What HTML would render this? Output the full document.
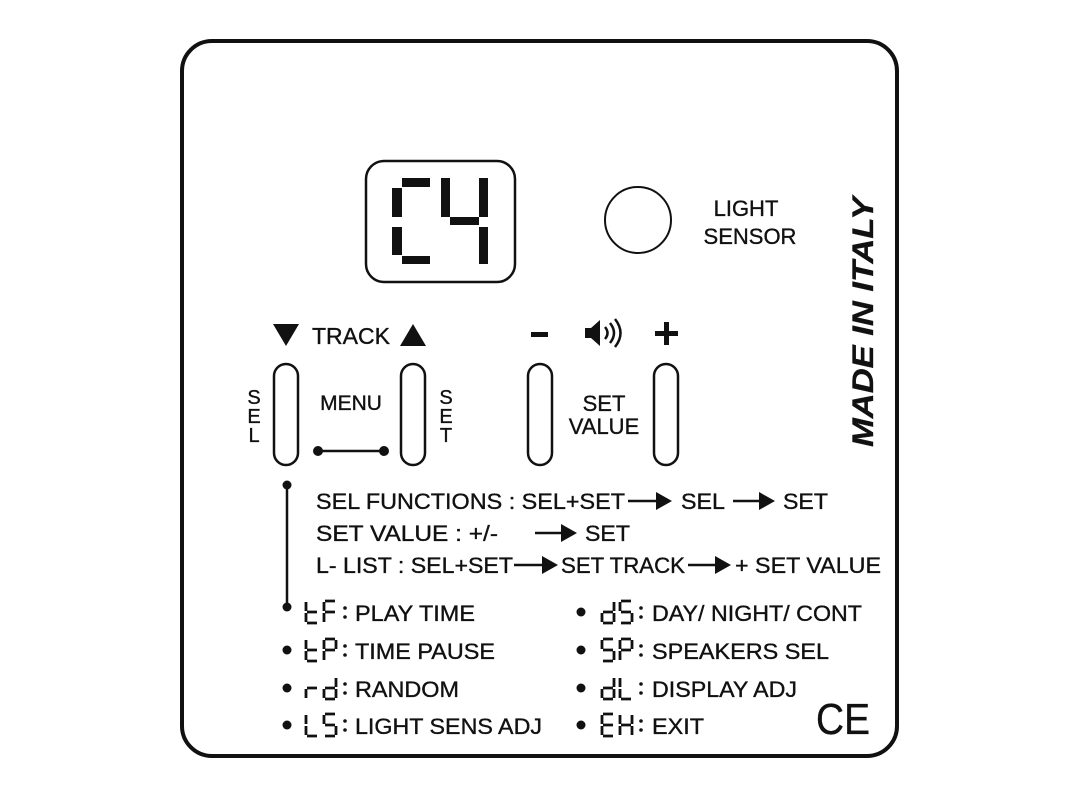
<!DOCTYPE html>
<html><head><meta charset="utf-8"><style>
html,body{margin:0;padding:0;background:#fff;}
svg{display:block;}
text{font-family:"Liberation Sans",Arial,sans-serif;fill:#111;stroke:#111;stroke-width:0.35;}
</style></head><body>
<svg width="1080" height="799" viewBox="0 0 1080 799" xmlns="http://www.w3.org/2000/svg">
<rect x="0" y="0" width="1080" height="799" fill="#fff"/>
<rect x="182" y="41" width="715" height="715" rx="30" fill="none" stroke="#111" stroke-width="4"/>
<rect x="366" y="161" width="149" height="121" rx="18" fill="none" stroke="#111" stroke-width="2.5"/>
<g fill="#111">
<rect x="402" y="178" width="28" height="9"/>
<rect x="392" y="188" width="10" height="29"/>
<rect x="392" y="227" width="10" height="28"/>
<rect x="402" y="256" width="28" height="8"/>
<rect x="441" y="178" width="9" height="39"/>
<rect x="450" y="217" width="29" height="8"/>
<rect x="479" y="178" width="9" height="39"/>
<rect x="479" y="227" width="9" height="37"/>
</g>
<circle cx="638" cy="220" r="33" fill="none" stroke="#111" stroke-width="2"/>
<text x="746" y="216" font-size="22" text-anchor="middle">LIGHT</text>
<text x="750" y="244" font-size="22" text-anchor="middle">SENSOR</text>
<text transform="translate(873,322) rotate(-90)" font-size="30" font-weight="bold" font-style="italic" text-anchor="middle" textLength="250" lengthAdjust="spacingAndGlyphs">MADE IN ITALY</text>
<polygon points="273,324 299,324 286,346" fill="#111"/>
<text x="312" y="344" font-size="23" textLength="78" lengthAdjust="spacingAndGlyphs">TRACK</text>
<polygon points="400,346 426,346 413,324" fill="#111"/>
<rect x="531" y="332" width="17" height="5" fill="#111"/>
<polygon points="585,328 591,328 600,320 600,346 591,338 585,338" fill="#111"/>
<path d="M605,327 q5,6 0,12 M610,323 q8,10 0,20 M615,319 q11,14 0,28" fill="none" stroke="#111" stroke-width="2.5"/>
<rect x="655" y="331" width="23" height="5" fill="#111"/>
<rect x="664" y="322" width="5" height="23" fill="#111"/>
<g fill="none" stroke="#111" stroke-width="2.5">
<rect x="274" y="364" width="24" height="101" rx="12"/>
<rect x="401" y="364" width="24" height="101" rx="12"/>
<rect x="528" y="364" width="24" height="101" rx="12"/>
<rect x="654" y="364" width="24" height="101" rx="12"/>
</g>
<g font-size="20" text-anchor="middle">
<text x="254" y="404">S</text><text x="254" y="423">E</text><text x="254" y="442">L</text>
<text x="446" y="404">S</text><text x="446" y="423">E</text><text x="446" y="442">T</text>
</g>
<text x="351" y="410" font-size="21" text-anchor="middle">MENU</text>
<line x1="318" y1="451" x2="384" y2="451" stroke="#111" stroke-width="2.5"/>
<circle cx="318" cy="451" r="5" fill="#111"/><circle cx="384" cy="451" r="5" fill="#111"/>
<text x="604" y="411" font-size="22" text-anchor="middle">SET</text>
<text x="604" y="434" font-size="22" text-anchor="middle">VALUE</text>
<line x1="287" y1="485" x2="287" y2="607" stroke="#111" stroke-width="2.5"/>
<circle cx="287" cy="485" r="4.5" fill="#111"/><circle cx="287" cy="607" r="4.5" fill="#111"/>
<g font-size="22">
<text x="316" y="509" textLength="309" lengthAdjust="spacingAndGlyphs">SEL FUNCTIONS : SEL+SET</text>
<text x="681" y="509" textLength="44" lengthAdjust="spacingAndGlyphs">SEL</text>
<text x="783" y="509" textLength="45" lengthAdjust="spacingAndGlyphs">SET</text>
<text x="316" y="541" textLength="182" lengthAdjust="spacingAndGlyphs">SET VALUE : +/-</text>
<text x="585" y="541" textLength="45" lengthAdjust="spacingAndGlyphs">SET</text>
<text x="316" y="573" textLength="197" lengthAdjust="spacingAndGlyphs">L- LIST : SEL+SET</text>
<text x="561" y="573" textLength="124" lengthAdjust="spacingAndGlyphs">SET TRACK</text>
<text x="735" y="573" textLength="146" lengthAdjust="spacingAndGlyphs">+ SET VALUE</text>
</g>
<g stroke="#111" stroke-width="2.5">
<line x1="628" y1="501" x2="658" y2="501"/>
<line x1="733" y1="501" x2="761" y2="501"/>
<line x1="535" y1="533" x2="563" y2="533"/>
<line x1="514" y1="565" x2="544" y2="565"/>
<line x1="688" y1="565" x2="717" y2="565"/>
</g>
<g fill="#111">
<polygon points="656,492 672,501 656,510"/>
<polygon points="759,492 775,501 759,510"/>
<polygon points="561,524 577,533 561,542"/>
<polygon points="542,556 558,565 542,574"/>
<polygon points="715,556 731,565 715,574"/>
</g>
<g fill="#111">
<circle cx="287" cy="650" r="4.5"/><circle cx="287" cy="688" r="4.5"/><circle cx="287" cy="725" r="4.5"/>
<circle cx="581" cy="612" r="4.5"/><circle cx="581" cy="650" r="4.5"/><circle cx="581" cy="688" r="4.5"/><circle cx="581" cy="725" r="4.5"/>
<circle cx="345" cy="608" r="1.8"/><circle cx="345" cy="617" r="1.8"/>
<circle cx="345" cy="646" r="1.8"/><circle cx="345" cy="655" r="1.8"/>
<circle cx="345" cy="684" r="1.8"/><circle cx="345" cy="693" r="1.8"/>
<circle cx="345" cy="721" r="1.8"/><circle cx="345" cy="730" r="1.8"/>
<circle cx="641" cy="608" r="1.8"/><circle cx="641" cy="617" r="1.8"/>
<circle cx="641" cy="646" r="1.8"/><circle cx="641" cy="655" r="1.8"/>
<circle cx="641" cy="684" r="1.8"/><circle cx="641" cy="693" r="1.8"/>
<circle cx="641" cy="721" r="1.8"/><circle cx="641" cy="730" r="1.8"/>
</g>
<g fill="none" stroke="#111" stroke-width="2.8">
<path transform="translate(306,601)" d="M0,1V10M1,11H11M0,12V21M1,22H11"/>
<path transform="translate(324,601)" d="M1,0H11M0,1V10M1,11H11M0,12V21"/>
<path transform="translate(306,639)" d="M0,1V10M1,11H11M0,12V21M1,22H11"/>
<path transform="translate(324,639)" d="M1,0H11M12,1V10M0,1V10M1,11H11M0,12V21"/>
<path transform="translate(306,677)" d="M0,12V21M1,11H11"/>
<path transform="translate(324,677)" d="M12,1V10M12,12V21M1,22H11M0,12V21M1,11H11"/>
<path transform="translate(306,714)" d="M0,1V10M0,12V21M1,22H11"/>
<path transform="translate(324,714)" d="M1,0H11M0,1V10M1,11H11M12,12V21M1,22H11"/>
<path transform="translate(602,601)" d="M12,1V10M12,12V21M1,22H11M0,12V21M1,11H11"/>
<path transform="translate(620,601)" d="M1,0H11M0,1V10M1,11H11M12,12V21M1,22H11"/>
<path transform="translate(602,639)" d="M1,0H11M0,1V10M1,11H11M12,12V21M1,22H11"/>
<path transform="translate(620,639)" d="M1,0H11M12,1V10M0,1V10M1,11H11M0,12V21"/>
<path transform="translate(602,677)" d="M12,1V10M12,12V21M1,22H11M0,12V21M1,11H11"/>
<path transform="translate(620,677)" d="M0,1V10M0,12V21M1,22H11"/>
<path transform="translate(602,714)" d="M1,0H11M0,1V10M1,11H11M0,12V21M1,22H11"/>
<path transform="translate(620,714)" d="M0,1V10M12,1V10M1,11H11M0,12V21M12,12V21"/>
</g>
<g font-size="22">
<text x="355" y="621" textLength="120" lengthAdjust="spacingAndGlyphs">PLAY TIME</text>
<text x="355" y="659" textLength="140" lengthAdjust="spacingAndGlyphs">TIME PAUSE</text>
<text x="355" y="697" textLength="104" lengthAdjust="spacingAndGlyphs">RANDOM</text>
<text x="355" y="734" textLength="187" lengthAdjust="spacingAndGlyphs">LIGHT SENS ADJ</text>
<text x="652" y="621" textLength="210" lengthAdjust="spacingAndGlyphs">DAY/ NIGHT/ CONT</text>
<text x="652" y="659" textLength="177" lengthAdjust="spacingAndGlyphs">SPEAKERS SEL</text>
<text x="652" y="697" textLength="145" lengthAdjust="spacingAndGlyphs">DISPLAY ADJ</text>
<text x="652" y="734" textLength="52" lengthAdjust="spacingAndGlyphs">EXIT</text>
</g>
<text x="843" y="734" font-size="44" text-anchor="middle" textLength="54" lengthAdjust="spacingAndGlyphs">CE</text>
</svg>
</body></html>
